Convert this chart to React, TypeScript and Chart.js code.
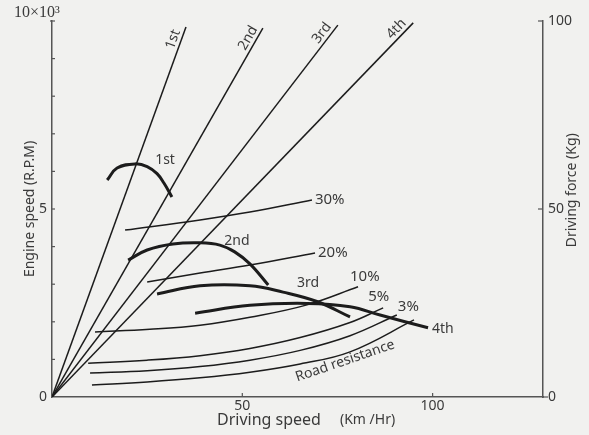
import React, { useEffect, useRef } from 'react';
import { Chart, registerables } from 'chart.js';

Chart.register(...registerables);

// ---------- data ----------
// gear lines: engine speed (x10^3 rpm) vs driving speed (km/h), through origin
const gearNames = ['1st', '2nd', '3rd', '4th'];
const gearEndSpeed = [35.2, 55.4, 75.1, 94.9];
const gearEndRpm = [9.84, 9.81, 9.89, 9.95];

// driving force curves (kg) per gear
const force1stSpeed = [14.5, 17.1, 21.8, 25.0, 27.6, 29.4, 31.5];
const force1stKg = [57.7, 60.9, 62.0, 61.3, 59.4, 56.9, 53.2];
const force2ndSpeed = [20.0, 25.0, 31.8, 38.9, 44.1, 48.0, 52.0, 56.8];
const force2ndKg = [36.4, 39.1, 40.7, 41.0, 40.4, 38.6, 35.4, 29.8];
const force3rdSpeed = [27.6, 38.9, 52.0, 60.7, 69.6, 78.3];
const force3rdKg = [27.4, 29.6, 29.6, 27.9, 25.4, 21.3];
const force4thSpeed = [37.6, 52.0, 67.0, 78.3, 86.2, 98.8];
const force4thKg = [22.3, 24.4, 24.9, 24.0, 21.8, 18.4];

// grade resistance curves (kg)
const gradeNames = ['30%', '20%', '10%', '5%', '3%', 'Road resistance'];
const grade30Speed = [19.2, 38.9, 52.0, 68.3];
const grade30Kg = [44.4, 47.1, 49.2, 52.4];
const grade20Speed = [25.0, 38.9, 52.0, 69.1];
const grade20Kg = [30.6, 33.0, 35.1, 38.3];
const grade10Speed = [11.3, 25.7, 38.9, 52.0, 67.0, 80.4];
const grade10Kg = [17.3, 18.0, 19.1, 21.2, 24.5, 29.3];
const grade5Speed = [9.5, 25.0, 38.9, 52.0, 65.2, 78.3, 87.0];
const grade5Kg = [9.0, 9.8, 11.0, 12.9, 15.8, 19.8, 23.7];
const grade3Speed = [10.0, 25.0, 38.9, 52.0, 65.2, 78.3, 90.6];
const grade3Kg = [6.4, 7.0, 8.1, 9.8, 12.4, 16.3, 21.8];
const roadSpeed = [10.5, 25.0, 38.9, 52.0, 65.2, 78.3, 95.1];
const roadKg = [3.2, 4.0, 5.1, 6.6, 8.8, 12.0, 20.5];

// ticks
const speedTicks = [50, 100];
const rpmTickValues = [0, 1, 2, 3, 4, 5, 6, 7, 8, 9, 10];
const rpmLabeled = [0, 5];
const forceTicks = [0, 50, 100];

// ---------- style ----------
const BG = '#f1f1ef';
const INK = '#1c1c1c';
const TXT = '#3a3a3a';
const AXIS = '#555555';
const FONT = '"Noto Sans", "DejaVu Sans", sans-serif';

const pts = (xs: number[], ys: number[]) => xs.map((x, i) => ({ x, y: ys[i] }));

const forceSets = [
  pts(force1stSpeed, force1stKg),
  pts(force2ndSpeed, force2ndKg),
  pts(force3rdSpeed, force3rdKg),
  pts(force4thSpeed, force4thKg),
];
const gradeSets = [
  pts(grade30Speed, grade30Kg),
  pts(grade20Speed, grade20Kg),
  pts(grade10Speed, grade10Kg),
  pts(grade5Speed, grade5Kg),
  pts(grade3Speed, grade3Kg),
  pts(roadSpeed, roadKg),
];

function drawText(ctx: CanvasRenderingContext2D, s: string, x: number, y: number, size: number, align: CanvasTextAlign = 'center', rot = 0, family = FONT) {
  ctx.save();
  ctx.translate(x, y);
  if (rot) ctx.rotate(rot);
  ctx.font = `${size}px ${family}`;
  ctx.fillStyle = TXT;
  ctx.textAlign = align;
  ctx.textBaseline = 'middle';
  ctx.fillText(s, 0, 0);
  ctx.restore();
}

const overlay = {
  id: 'overlay',
  beforeDraw(chart: any) {
    const ctx = chart.ctx;
    ctx.save();
    ctx.fillStyle = BG;
    ctx.fillRect(0, 0, chart.width, chart.height);
    ctx.restore();
  },
  afterDraw(chart: any) {
    const ctx: CanvasRenderingContext2D = chart.ctx;
    const { x, y, y2 } = chart.scales;
    const area = chart.chartArea;
    ctx.save();
    ctx.strokeStyle = AXIS;
    ctx.lineWidth = 1.2;
    const seg = (a: number, b: number, c: number, d: number) => {
      ctx.beginPath();
      ctx.moveTo(a, b);
      ctx.lineTo(c, d);
      ctx.stroke();
    };
    // left ticks (inward)
    rpmTickValues.forEach((v) => {
      if (v === 0) return;
      const py = y.getPixelForValue(v);
      seg(area.left - (v === 10 ? 2 : 0), py, area.left + 3, py);
    });
    // bottom ticks (inward)
    speedTicks.forEach((v) => {
      const px = x.getPixelForValue(v);
      seg(px, area.bottom, px, area.bottom - 4);
    });
    // right ticks
    forceTicks.forEach((v) => {
      const py = y2.getPixelForValue(v);
      if (v === 0) seg(area.right, py, area.right + 5, py);
      else seg(area.right - 5, py, area.right, py);
    });
    ctx.restore();

    // gear line labels
    const ox = x.getPixelForValue(0);
    const oy = y.getPixelForValue(0);
    gearNames.forEach((name, i) => {
      const ex = x.getPixelForValue(gearEndSpeed[i]);
      const ey = y.getPixelForValue(gearEndRpm[i]);
      const ang = Math.atan2(ey - oy, ex - ox);
      const ux = Math.cos(ang), uy = Math.sin(ang);
      const nx = uy, ny = -ux; // left normal
      const cx = ex - 16 * ux + 8 * nx;
      const cy = ey - 16 * uy + 8 * ny;
      drawText(ctx, name, cx, cy, 14, 'center', ang);
    });

    // force curve labels
    const fLab = [
      { x: 29.7, y: 63.0 },
      { x: 48.6, y: 41.5 },
      { x: 67.3, y: 30.3 },
    ];
    fLab.forEach((p, i) => {
      drawText(ctx, gearNames[i], x.getPixelForValue(p.x), y2.getPixelForValue(p.y), 14, 'center');
    });
    const last4 = forceSets[3][forceSets[3].length - 1];
    drawText(ctx, gearNames[3], x.getPixelForValue(last4.x) + 4, y2.getPixelForValue(last4.y) + 1, 14, 'left');

    // grade labels
    const gOff = [
      [3, 0],
      [3, 0],
      [-8, -10],
      [-15, -11],
      [1, -8],
    ];
    gradeSets.slice(0, 5).forEach((s, i) => {
      const e = s[s.length - 1];
      drawText(ctx, gradeNames[i], x.getPixelForValue(e.x) + gOff[i][0], y2.getPixelForValue(e.y) + gOff[i][1], 15, 'left');
    });
    // road resistance label along its curve
    drawText(ctx, gradeNames[5], x.getPixelForValue(77), y2.getPixelForValue(9.6), 14, 'center', -0.33);

    // axis titles & extra labels
    drawText(ctx, '10×10³', area.left - 15, y.getPixelForValue(10) - 8, 16, 'center', 0, '"Liberation Serif", "DejaVu Serif", serif');
    drawText(ctx, 'Engine speed (R.P.M)', 30, y.getPixelForValue(5), 14, 'center', -Math.PI / 2);
    drawText(ctx, 'Driving force (Kg)', 572, y2.getPixelForValue(55), 14, 'center', -Math.PI / 2);
    drawText(ctx, 'Driving speed', 217, 420, 16, 'left');
    drawText(ctx, '(Km /Hr)', 340, 420, 14, 'left');
  },
};

export default function App() {
  const ref = useRef<HTMLCanvasElement>(null);
  useEffect(() => {
    if (!ref.current) return;
    const datasets: any[] = [];
    gearNames.forEach((n, i) => {
      datasets.push({
        label: 'gear ' + n,
        data: [{ x: 0, y: 0 }, { x: gearEndSpeed[i], y: gearEndRpm[i] }],
        yAxisID: 'y',
        borderColor: INK,
        borderWidth: 1.5,
        pointRadius: 0,
        tension: 0,
      });
    });
    forceSets.forEach((d, i) => {
      datasets.push({
        label: 'force ' + gearNames[i],
        data: d,
        yAxisID: 'y2',
        borderColor: INK,
        borderWidth: 3,
        pointRadius: 0,
        tension: 0.4,
      });
    });
    gradeSets.forEach((d, i) => {
      datasets.push({
        label: gradeNames[i],
        data: d,
        yAxisID: 'y2',
        borderColor: INK,
        borderWidth: 1.5,
        pointRadius: 0,
        tension: 0.4,
      });
    });

    const tickFont = { family: FONT, size: 14 };
    const chart = new Chart(ref.current, {
      type: 'line',
      data: { datasets },
      plugins: [overlay],
      options: {
        responsive: false,
        animation: false,
        devicePixelRatio: 1,
        layout: { padding: { top: 21, left: 0, right: 0, bottom: 0 } },
        plugins: { legend: { display: false }, tooltip: { enabled: false } },
        scales: {
          x: {
            type: 'linear',
            min: 0,
            max: 129,
            afterBuildTicks: (s: any) => { s.ticks = speedTicks.map((v) => ({ value: v })); },
            afterFit: (s: any) => { s.height = 38; },
            grid: { display: false, drawTicks: false },
            border: { display: true, color: AXIS, width: 1.5 },
            ticks: { padding: 1, font: tickFont, color: TXT, maxRotation: 0, autoSkip: false, callback: (v: any) => String(v) },
          },
          y: {
            type: 'linear',
            position: 'left',
            min: 0,
            max: 10,
            afterBuildTicks: (s: any) => { s.ticks = rpmTickValues.map((v) => ({ value: v })); },
            afterFit: (s: any) => { s.width = 52; },
            grid: { display: false, drawTicks: false },
            border: { display: true, color: AXIS, width: 1.5 },
            ticks: { padding: 5, font: tickFont, color: TXT, autoSkip: false, callback: (v: any) => (rpmLabeled.includes(v) ? String(v) : '') },
          },
          y2: {
            type: 'linear',
            position: 'right',
            min: 0,
            max: 100,
            afterBuildTicks: (s: any) => { s.ticks = forceTicks.map((v) => ({ value: v })); },
            afterFit: (s: any) => { s.width = 46; },
            grid: { display: false, drawTicks: false },
            border: { display: true, color: AXIS, width: 1.5 },
            ticks: { padding: 5, font: tickFont, color: TXT, autoSkip: false, callback: (v: any) => String(v) },
          },
        },
      } as any,
    });
    return () => chart.destroy();
  }, []);
  return (
    <div style={{ position: 'fixed', left: 0, top: 0, width: 589, height: 435 }}>
      <canvas ref={ref} width={589} height={435} style={{ display: 'block', width: 589, height: 435 }} />
    </div>
  );
}
